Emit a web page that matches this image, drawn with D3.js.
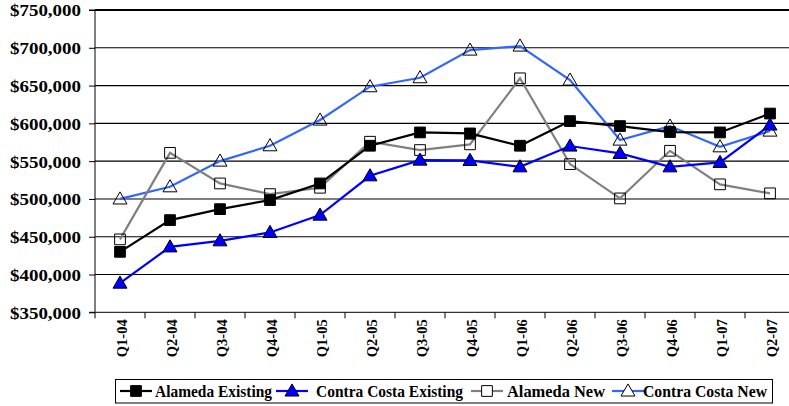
<!DOCTYPE html>
<html><head><meta charset="utf-8">
<script src="https://cdn.jsdelivr.net/npm/d3@7"></script>
<style>
html,body{margin:0;padding:0;background:#fff;}
</style></head>
<body>
<script>
const categories = ["Q1-04","Q2-04","Q3-04","Q4-04","Q1-05","Q2-05","Q3-05","Q4-05","Q1-06","Q2-06","Q3-06","Q4-06","Q1-07","Q2-07"];
const alamedaExisting = [430000,472000,486500,498500,520500,570400,588000,586700,570400,603000,596400,588500,588000,613000];
const contraCostaExisting = [388600,436600,444600,455700,478600,530600,551400,551000,542500,570000,560300,542500,548400,597800];
const alamedaNew = [446500,561000,520500,506400,514800,575700,564700,572200,659600,546100,500700,563700,519300,507400];
const contraCostaNew = [500000,516100,550100,570400,604400,648500,660400,697000,702300,657300,577900,596400,569000,589800];
const yTicks = [350000,400000,450000,500000,550000,600000,650000,700000,750000];
const seriesNames = ["Alameda Existing","Contra Costa Existing","Alameda New","Contra Costa New"];

const FONT = "'Liberation Serif', 'Times New Roman', serif";
const W = 789, H = 406;
const svg = d3.select("body").append("svg").attr("width", W).attr("height", H);

const x = d3.scaleBand().domain(categories).range([95, 795]).padding(0);
const y = d3.scaleLinear().domain([350000, 750000]).range([312.3, 10]);
const cx = c => x(c) + x.bandwidth() / 2;

// gridlines
svg.append("g").selectAll("line").data(yTicks.filter(v => v > 350000 && v < 750000))
  .join("line").attr("x1", 95).attr("x2", 795)
  .attr("y1", d => y(d)).attr("y2", d => y(d))
  .attr("stroke", "#000").attr("stroke-width", 1.1);
// top border
svg.append("line").attr("x1", 95).attr("x2", 795).attr("y1", y(750000)).attr("y2", y(750000))
  .attr("stroke", "#000").attr("stroke-width", 2);

// y axis
const yAxis = d3.axisLeft(y).tickValues(yTicks).tickSize(6).tickPadding(8)
  .tickFormat(d => "$" + d3.format(",")(d));
const gy = svg.append("g").attr("transform", "translate(95,0)").call(yAxis)
  .attr("font-family", null).attr("font-size", null);
gy.select(".domain").attr("stroke", "#000").attr("d", "M-6,10H0V312.3H-6");
gy.selectAll("line").attr("stroke", "#000");
gy.selectAll("text")
  .style("font-family", FONT).style("font-weight", "bold").style("font-size", "17px")
  .attr("dy", "0.35em").attr("fill", "#000")
  .attr("textLength", 71).attr("lengthAdjust", "spacingAndGlyphs");

// x axis
const gx = svg.append("g").attr("transform", "translate(0,312.3)");
gx.append("line").attr("x1", 95).attr("x2", 795).attr("stroke", "#000");
gx.selectAll("line.tk").data(categories).join("line").attr("class", "tk")
  .attr("x1", d => x(d) + x.bandwidth()).attr("x2", d => x(d) + x.bandwidth())
  .attr("y1", 0).attr("y2", 6).attr("stroke", "#000");
gx.append("line").attr("x1", 95).attr("x2", 95).attr("y1", 0).attr("y2", 6).attr("stroke", "#000");
gx.selectAll("text").data(categories).join("text")
  .attr("transform", d => `translate(${cx(d) + 2},7) rotate(-90)`)
  .attr("text-anchor", "end").attr("dy", "0.35em")
  .style("font-family", FONT).style("font-weight", "bold").style("font-size", "14.5px")
  .attr("fill", "#000")
  .text(d => d);

// series
const series = [
  {name: seriesNames[0], values: alamedaExisting, color: "#000000", marker: "square", fill: "#000000"},
  {name: seriesNames[1], values: contraCostaExisting, color: "#0000FF", marker: "triangle", fill: "#0000FF"},
  {name: seriesNames[2], values: alamedaNew, color: "#808080", marker: "square", fill: "none"},
  {name: seriesNames[3], values: contraCostaNew, color: "#3366FF", marker: "triangle", fill: "none"}
];
const symSquare = d3.symbol().type(d3.symbolSquare).size(115);
const symTri = d3.symbol().type(d3.symbolTriangle).size(85);
const line = d3.line().x((d, i) => cx(categories[i])).y(d => y(d));

series.slice().reverse().forEach(s => {
  const g = svg.append("g");
  g.append("path").attr("d", line(s.values)).attr("fill", "none")
    .attr("stroke", s.color).attr("stroke-width", 2.2);
  g.selectAll("path.m").data(s.values).join("path").attr("class", "m")
    .attr("d", s.marker === "square" ? symSquare() : symTri())
    .attr("transform", (d, i) => `translate(${cx(categories[i])},${y(d) + (s.marker === "triangle" ? 1 : 0)})`)
    .attr("fill", s.fill).attr("stroke", "#000").attr("stroke-width", 1);
});

// legend
const lg = svg.append("g");
lg.append("rect").attr("x", 115.5).attr("y", 379.5).attr("width", 657).attr("height", 23.5)
  .attr("fill", "#fff").attr("stroke", "#000");
const legendLineX = [120, 276, 471, 612];
const legendTextX = [155, 316, 507, 643];
const legendTextW = [117, 147, 98, 124];
series.forEach((s, i) => {
  const ly = 391;
  lg.append("line").attr("x1", legendLineX[i]).attr("x2", legendLineX[i] + 32)
    .attr("y1", ly).attr("y2", ly).attr("stroke", s.color).attr("stroke-width", 2.2);
  lg.append("path").attr("d", s.marker === "square" ? symSquare() : symTri())
    .attr("transform", `translate(${legendLineX[i] + 16},${ly + (s.marker === "triangle" ? 1 : 0)})`)
    .attr("fill", s.fill === "none" ? "#fff" : s.fill).attr("stroke", "#000");
  lg.append("text").attr("x", legendTextX[i]).attr("y", ly).attr("dy", "0.35em")
    .style("font-family", FONT).style("font-weight", "bold").style("font-size", "17px")
    .attr("fill", "#000")
    .attr("textLength", legendTextW[i]).attr("lengthAdjust", "spacingAndGlyphs")
    .text(s.name);
});
</script>
</body></html>
